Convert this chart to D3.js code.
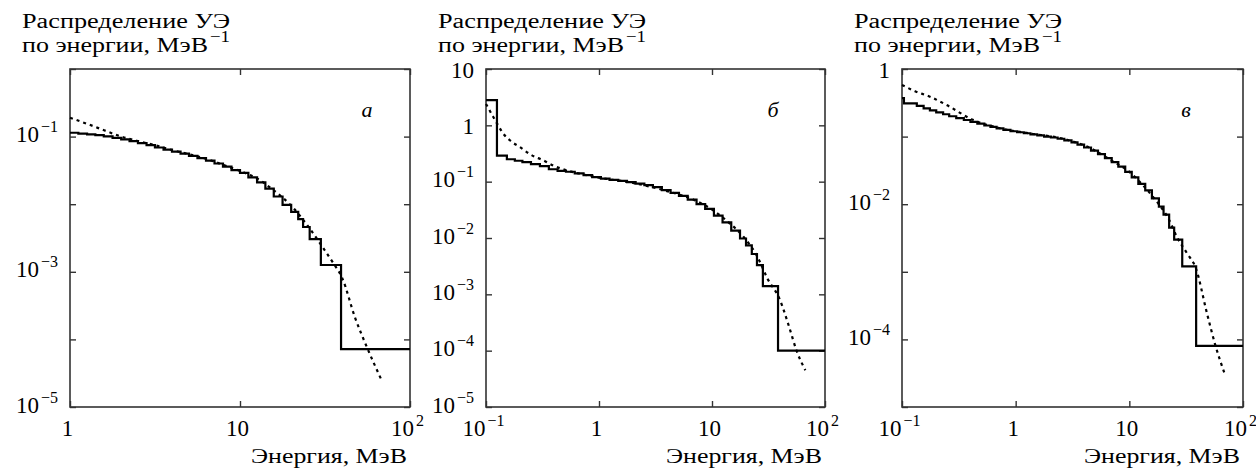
<!DOCTYPE html>
<html>
<head>
<meta charset="utf-8">
<script src="https://cdn.jsdelivr.net/npm/d3@7"></script>
<style>
  body { margin: 0; background: #fff; }
  text { font-family: "Liberation Serif", serif; fill: #000; }
</style>
</head>
<body>
<svg id="chart" width="1256" height="470"></svg>
<script>
// ---- panel a: histogram bin edges (MeV) and values (1/MeV), fitted curve
var edgesA = [1, 1.12, 1.26, 1.41, 1.58, 1.78, 2.0, 2.24, 2.51, 2.82, 3.16, 3.55, 3.98, 4.47, 5.01,
  5.62, 6.31, 7.08, 7.94, 8.91, 10, 11.2, 12.6, 14.1, 15.8, 17.8, 20, 22, 23.5, 25.7, 29.9, 39.3, 100];
var histA = [0.114, 0.111, 0.108, 0.105, 0.101, 0.096, 0.091, 0.086, 0.080, 0.075, 0.069, 0.064,
  0.060, 0.056, 0.052, 0.048, 0.044, 0.040, 0.036, 0.032, 0.029, 0.025, 0.021, 0.017, 0.013,
  0.0098, 0.0077, 0.0060, 0.0046, 0.00305, 0.00126, 7.2e-5];
var fitEA = [1, 1.3, 1.6, 2.0, 2.5, 3.2, 4, 5, 6.3, 8, 10, 12.6, 15.8, 20, 25, 30, 35, 40, 47.5, 56, 68];
var fitA = [0.19, 0.15, 0.123, 0.100, 0.086, 0.074, 0.063, 0.055, 0.047, 0.038, 0.031, 0.024,
  0.016, 0.0095, 0.0048, 0.0025, 0.0014, 0.0008, 2.1e-4, 7.5e-5, 2.5e-5];

// ---- panel b
var edgesB = [0.1, 0.125, 0.153, 0.18, 0.21, 0.25, 0.3, 0.36, 0.43, 0.51, 0.61, 0.73, 0.87, 1.04,
  1.24, 1.48, 1.77, 2.11, 2.52, 3.0, 3.6, 4.3, 5.1, 6.1, 7.3, 8.7, 10.4, 12.4, 14.8, 17.7, 20,
  22.5, 25, 28.2, 38.4, 100];
var histB = [2.8, 0.29, 0.25, 0.235, 0.222, 0.205, 0.188, 0.166, 0.156, 0.150, 0.140, 0.131,
  0.120, 0.113, 0.108, 0.103, 0.098, 0.092, 0.087, 0.080, 0.071, 0.063, 0.056, 0.048, 0.040,
  0.033, 0.025, 0.019, 0.0135, 0.0098, 0.0074, 0.0052, 0.0033, 0.0014, 1.0e-4];
var fitEB = [0.1, 0.115, 0.128, 0.141, 0.165, 0.2, 0.25, 0.32, 0.4, 0.5, 0.64, 1, 2, 4, 7, 10,
  14, 19, 25, 31, 40, 48, 56, 67];
var fitB = [2.4, 1.45, 1.0, 0.73, 0.53, 0.41, 0.30, 0.24, 0.19, 0.162, 0.142, 0.118, 0.095,
  0.068, 0.047, 0.032, 0.019, 0.0105, 0.0048, 0.0019, 7.9e-4, 2.7e-4, 1.0e-4, 4.5e-5];

// ---- panel c
var edgesC = [0.1, 0.104, 0.135, 0.155, 0.176, 0.2, 0.23, 0.26, 0.3, 0.35, 0.4, 0.46, 0.53, 0.6,
  0.68, 0.78, 0.9, 1.03, 1.18, 1.35, 1.55, 1.78, 2.04, 2.34, 2.68, 3.1, 3.5, 4.0, 4.6, 5.3, 6.1,
  7.0, 8.0, 9.2, 10.5, 12, 13.8, 15.8, 18.2, 20, 22.4, 24.8, 29.2, 38.7, 100];
var histC = [0.37, 0.31, 0.285, 0.262, 0.245, 0.228, 0.214, 0.200, 0.188, 0.176, 0.165, 0.156,
  0.146, 0.139, 0.132, 0.126, 0.120, 0.116, 0.112, 0.108, 0.104, 0.100, 0.097, 0.093, 0.088,
  0.082, 0.076, 0.069, 0.062, 0.055, 0.048, 0.042, 0.036, 0.030, 0.025, 0.020, 0.016, 0.0122,
  0.0092, 0.0070, 0.0045, 0.0030, 0.0012, 8.0e-5];
var fitEC = [0.1, 0.13, 0.176, 0.25, 0.42, 0.7, 1.3, 2.6, 4.5, 7, 10, 14, 18, 22, 26.4, 32, 38.7,
  48, 57, 69];
var fitC = [0.58, 0.47, 0.39, 0.29, 0.177, 0.135, 0.112, 0.093, 0.068, 0.044, 0.030, 0.017,
  0.0102, 0.0062, 0.0032, 0.0019, 0.0011, 2.5e-4, 8.3e-5, 3.1e-5];

// ---- axes: tick positions and which ones get labels
var xTicksA = [1, 10, 100];
var xTicksBC = [0.1, 1, 10, 100];
var yTicksA = [1e-5, 1e-4, 1e-3, 1e-2, 1e-1, 1];
var yLabelsA = [1e-5, 1e-3, 1e-1];
var yTicksB = [1e-5, 1e-4, 1e-3, 1e-2, 1e-1, 1, 10];
var yLabelsB = [1e-5, 1e-4, 1e-3, 1e-2, 1e-1, 1, 10];
var yTicksC = [1e-5, 1e-4, 1e-3, 1e-2, 1e-1, 1];
var yLabelsC = [1e-4, 1e-2, 1];

var panelLetters = ['а', 'б', 'в'];
var titleLine1 = 'Распределение УЭ';
var titleLine2 = 'по энергии, МэВ';
var titleSup = '\u22121';
var xTitle = 'Энергия, МэВ';

var panels = [
  { edges: edgesA, hist: histA, fitE: fitEA, fit: fitA, xDom: [1, 100], yDom: [1e-5, 1],
    xTicks: xTicksA, yTicks: yTicksA, yLabels: yLabelsA, letter: panelLetters[0],
    l: 70, r: 410, letterX: 367 },
  { edges: edgesB, hist: histB, fitE: fitEB, fit: fitB, xDom: [0.1, 100], yDom: [1e-5, 10],
    xTicks: xTicksBC, yTicks: yTicksB, yLabels: yLabelsB, letter: panelLetters[1],
    l: 486, r: 825, letterX: 773 },
  { edges: edgesC, hist: histC, fitE: fitEC, fit: fitC, xDom: [0.1, 100], yDom: [1e-5, 1],
    xTicks: xTicksBC, yTicks: yTicksC, yLabels: yLabelsC, letter: panelLetters[2],
    l: 902, r: 1243, letterX: 1186 }
];

var plotTop = 69, plotBottom = 407;
var svg = d3.select('#chart');

function powerLabel(text, v) {
  var e = Math.round(Math.log10(v));
  text.text(null);
  if (e === 0) { text.append('tspan').text('1'); return; }
  text.append('tspan').text('10');
  if (e !== 1) {
    text.append('tspan')
      .attr('font-size', 16)
      .attr('dx', 2)
      .attr('dy', -10)
      .text(e < 0 ? '\u2212' + (-e) : '' + e);
  }
}

function buildPanel(p) {
  var w = p.r - p.l, h = plotBottom - plotTop;
  var g = svg.append('g').attr('transform', 'translate(' + [p.l, plotTop] + ')');

  var x = d3.scaleLog().domain(p.xDom).range([0, w]);
  var y = d3.scaleLog().domain(p.yDom).range([h, 0]);

  // inward ticks on all four sides
  var bottomAx = g.append('g').attr('transform', 'translate(0,' + h + ')')
    .call(d3.axisBottom(x).tickValues(p.xTicks).tickSizeInner(-6).tickSizeOuter(0).tickPadding(10));
  bottomAx.selectAll('text')
    .attr('dy', null).attr('y', 29).attr('x', -3).attr('font-size', 23)
    .each(function(d) { powerLabel(d3.select(this), d); });

  g.append('g')
    .call(d3.axisTop(x).tickValues(p.xTicks).tickSizeInner(-6).tickSizeOuter(0).tickFormat(''));

  var leftAx = g.append('g')
    .call(d3.axisLeft(y).tickValues(p.yTicks).tickSizeInner(-6).tickSizeOuter(0).tickPadding(12)
      .tickFormat(function(d) { return p.yLabels.indexOf(d) >= 0 ? 'x' : ''; }));
  leftAx.selectAll('text')
    .attr('font-size', 23)
    .attr('dy', null)
    .each(function(d) {
      if (p.yLabels.indexOf(d) < 0) return;
      var e = Math.round(Math.log10(d));
      d3.select(this).attr('y', (e === 0 || e === 1) ? 8 : 5);
      powerLabel(d3.select(this), d);
    });

  g.append('g').attr('transform', 'translate(' + w + ',0)')
    .call(d3.axisRight(y).tickValues(p.yTicks).tickSizeInner(-6).tickSizeOuter(0).tickFormat(''));

  g.selectAll('.domain').remove();
  g.selectAll('.tick line').attr('stroke', '#333').attr('stroke-width', 1.4);
  g.selectAll('.tick text').attr('fill', '#000').attr('font-family', '"Liberation Serif", serif');

  g.append('rect')
    .attr('width', w).attr('height', h)
    .attr('fill', 'none').attr('stroke', '#333').attr('stroke-width', 1.6);

  // fitted curve (dotted)
  var fitLine = d3.line()
    .x(function(d) { return x(d[0]); })
    .y(function(d) { return y(d[1]); })
    .curve(d3.curveMonotoneX);
  g.append('path')
    .datum(p.fitE.map(function(e, i) { return [e, p.fit[i]]; }))
    .attr('d', fitLine)
    .attr('fill', 'none').attr('stroke', '#000')
    .attr('stroke-width', 2.2).attr('stroke-dasharray', '3,4');

  // histogram (step line)
  var stepLine = d3.line()
    .x(function(d) { return x(d[0]); })
    .y(function(d) { return y(d[1]); })
    .curve(d3.curveStepAfter);
  var steps = p.edges.map(function(e, i) { return [e, p.hist[Math.min(i, p.hist.length - 1)]]; });
  g.append('path')
    .datum(steps)
    .attr('d', stepLine)
    .attr('fill', 'none').attr('stroke', '#000').attr('stroke-width', 2.2);

  // panel letter
  g.append('text')
    .attr('x', p.letterX - p.l).attr('y', 117 - plotTop)
    .attr('text-anchor', 'middle')
    .attr('font-size', 22).attr('font-style', 'italic')
    .text(p.letter);

  // y title (two lines above the plot)
  svg.append('text')
    .attr('x', p.l - 48).attr('y', 28)
    .attr('font-size', 20)
    .attr('textLength', 208).attr('lengthAdjust', 'spacingAndGlyphs')
    .text(titleLine1);
  svg.append('text')
    .attr('x', p.l - 48).attr('y', 52)
    .attr('font-size', 20)
    .attr('textLength', 186).attr('lengthAdjust', 'spacingAndGlyphs')
    .text(titleLine2);
  svg.append('text')
    .attr('x', p.l - 48 + 188).attr('y', 42)
    .attr('font-size', 16)
    .attr('textLength', 20).attr('lengthAdjust', 'spacingAndGlyphs')
    .text(titleSup);

  // x title
  svg.append('text')
    .attr('x', p.r - 3).attr('y', 463)
    .attr('text-anchor', 'end')
    .attr('font-size', 21)
    .attr('textLength', 156).attr('lengthAdjust', 'spacingAndGlyphs')
    .text(xTitle);
}

panels.forEach(buildPanel);
</script>
</body>
</html>
